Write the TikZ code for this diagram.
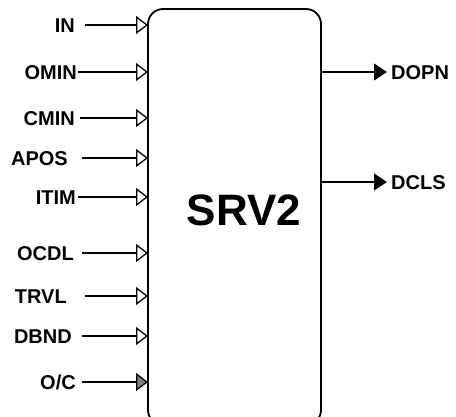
\documentclass[tikz,border=0pt]{standalone}
\usepackage{fontspec}
\setmainfont{Liberation Sans}
\usetikzlibrary{arrows.meta}
\begin{document}
\begin{tikzpicture}[x=1pt,y=-1pt,line join=miter,
  lbl/.style={font=\fontsize{20}{24}\selectfont\bfseries, inner ysep=0pt, text height=14.3pt, text depth=0pt},
  inp/.style={line width=1.3pt, -{Triangle[open, length=12pt, width=18pt]}},
  inpgray/.style={line width=1.3pt, -{Triangle[fill=gray, length=12pt, width=18pt]}},
  outp/.style={line width=1.3pt, -{Triangle[length=13pt, width=17pt]}}]
\clip (0,0) rectangle (456,417);
% block
\draw[line width=1.8pt, rounded corners=15pt] (148,9) rectangle (321,425);
\node[font=\fontsize{44}{50}\selectfont\bfseries] (srv) at (244,210) {SRV2};
% inputs
\node[lbl, anchor=east, inner xsep=10pt] (in)   at (85,25)  {IN};
\node[lbl, anchor=east, inner xsep=1pt]  (omin) at (78,72)  {OMIN};
\node[lbl, anchor=east, inner xsep=5pt]  (cmin) at (80,118) {CMIN};
\node[lbl, anchor=east, inner xsep=14pt] (apos) at (82,158) {APOS};
\node[lbl, anchor=east, inner xsep=2pt]  (itim) at (78,197) {ITIM};
\node[lbl, anchor=east, inner xsep=8pt]  (ocdl) at (82,253) {OCDL};
\node[lbl, anchor=east, inner xsep=18pt] (trvl) at (85,296) {TRVL};
\node[lbl, anchor=east, inner xsep=10pt] (dbnd) at (82,336) {DBND};
\node[lbl, anchor=east, inner xsep=6pt]  (oc)   at (82,382) {O/C};
\coordinate (in-end)   at (148,25);
\coordinate (omin-end) at (148,72);
\coordinate (cmin-end) at (148,118);
\coordinate (apos-end) at (148,158);
\coordinate (itim-end) at (148,197);
\coordinate (ocdl-end) at (148,253);
\coordinate (trvl-end) at (148,296);
\coordinate (dbnd-end) at (148,336);
\coordinate (oc-end)   at (148,382);
\draw[inp] (in) -- (in-end);
\draw[inp] (omin) -- (omin-end);
\draw[inp] (cmin) -- (cmin-end);
\draw[inp] (apos) -- (apos-end);
\draw[inp] (itim) -- (itim-end);
\draw[inp] (ocdl) -- (ocdl-end);
\draw[inp] (trvl) -- (trvl-end);
\draw[inp] (dbnd) -- (dbnd-end);
\draw[inpgray] (oc) -- (oc-end);
% outputs
\coordinate (dopn-start) at (321,72);
\coordinate (dcls-start) at (321,182);
\node[lbl, anchor=west, inner xsep=4pt] (dopn) at (387,72)  {DOPN};
\node[lbl, anchor=west, inner xsep=4pt] (dcls) at (387,182) {DCLS};
\draw[outp] (dopn-start) -- (dopn);
\draw[outp] (dcls-start) -- (dcls);
\end{tikzpicture}
\end{document}
